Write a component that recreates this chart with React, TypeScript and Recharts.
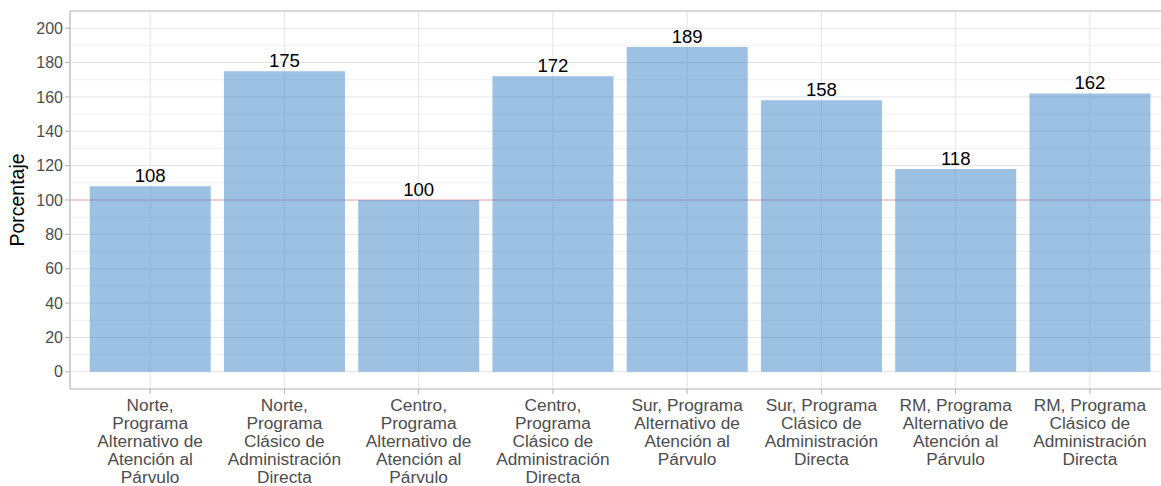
import React from 'react';
import { BarChart, Bar, XAxis, YAxis, CartesianGrid, LabelList } from 'recharts';

// Categories (región, programa) and the plotted percentage for each one
const CATEGORIES = [
  'Norte, Programa Alternativo de Atención al Párvulo',
  'Norte, Programa Clásico de Administración Directa',
  'Centro, Programa Alternativo de Atención al Párvulo',
  'Centro, Programa Clásico de Administración Directa',
  'Sur, Programa Alternativo de Atención al Párvulo',
  'Sur, Programa Clásico de Administración Directa',
  'RM, Programa Alternativo de Atención al Párvulo',
  'RM, Programa Clásico de Administración Directa',
];
const VALUES = [108, 175, 100, 172, 189, 158, 118, 162];

// Wrapped tick labels, one list of lines per category
const TICK_LINES = [
  ['Norte,', 'Programa', 'Alternativo de', 'Atención al', 'Párvulo'],
  ['Norte,', 'Programa', 'Clásico de', 'Administración', 'Directa'],
  ['Centro,', 'Programa', 'Alternativo de', 'Atención al', 'Párvulo'],
  ['Centro,', 'Programa', 'Clásico de', 'Administración', 'Directa'],
  ['Sur, Programa', 'Alternativo de', 'Atención al', 'Párvulo'],
  ['Sur, Programa', 'Clásico de', 'Administración', 'Directa'],
  ['RM, Programa', 'Alternativo de', 'Atención al', 'Párvulo'],
  ['RM, Programa', 'Clásico de', 'Administración', 'Directa'],
];
const Y_TICKS = [0, 20, 40, 60, 80, 100, 120, 140, 160, 180, 200];
const Y_MINOR = [10, 30, 50, 70, 90, 110, 130, 150, 170, 190];
const REFERENCE_VALUE = 100;
const Y_MAX = 210;

const data = CATEGORIES.map((name, i) => ({ name, value: VALUES[i] }));

const FONT = '"Liberation Sans", Arial, sans-serif';
const AXIS_GREY = '#b3b3b3';

const XTick = (props: any) => {
  const { x, y, index } = props;
  const lines = TICK_LINES[index] || [];
  return (
    <g transform={`translate(${x},${y})`}>
      <text textAnchor="middle" fill="#4d4d4d" fontSize={17.3} fontFamily={FONT}>
        {lines.map((line, i) => (
          <tspan key={i} x={0} y={15 + i * 18.1}>{line}</tspan>
        ))}
      </text>
    </g>
  );
};

export default function App() {
  return (
    <div style={{ position: 'absolute', left: 0, top: 0, width: 1161, height: 486, overflow: 'hidden', background: '#fff' }}>
      <BarChart
        width={1180}
        height={486}
        data={data}
        margin={{ top: 11, right: 10, left: 0, bottom: 0 }}
        barCategoryGap="5%"
      >
        {/* minor grid, major grid, panel top border and the 100% line, all under the bars */}
        <CartesianGrid stroke="#f1f1f1" vertical={false} horizontalValues={Y_MINOR} />
        <CartesianGrid stroke="#e3e3e3" horizontalValues={Y_TICKS} />
        <CartesianGrid stroke={AXIS_GREY} vertical={false} horizontalValues={[Y_MAX]} />
        <CartesianGrid stroke="#f2aab4" vertical={false} horizontalValues={[REFERENCE_VALUE]} />
        <XAxis
          dataKey="name"
          interval={0}
          padding={{ left: 13, right: 13 }}
          height={97}
          tick={<XTick />}
          tickLine={{ stroke: AXIS_GREY }}
          tickSize={5}
          axisLine={{ stroke: AXIS_GREY }}
        />
        <YAxis
          domain={[-10, Y_MAX]}
          ticks={Y_TICKS}
          width={70}
          allowDataOverflow
          tick={{ fill: '#4d4d4d', fontSize: 16, fontFamily: FONT }}
          tickLine={{ stroke: AXIS_GREY }}
          tickSize={5}
          axisLine={{ stroke: AXIS_GREY }}
        />
        <Bar dataKey="value" fill="#3b83c8" fillOpacity={0.5} isAnimationActive={false}>
          <LabelList dataKey="value" position="top" offset={4} fill="#000" fontSize={18.6} fontFamily={FONT} />
        </Bar>
      </BarChart>
      <svg width={40} height={486} style={{ position: 'absolute', left: 0, top: 0 }}>
        <text
          transform="translate(24,200) rotate(-90)"
          textAnchor="middle"
          fontSize={19.5}
          fontFamily={FONT}
          fill="#000"
        >
          Porcentaje
        </text>
      </svg>
    </div>
  );
}
